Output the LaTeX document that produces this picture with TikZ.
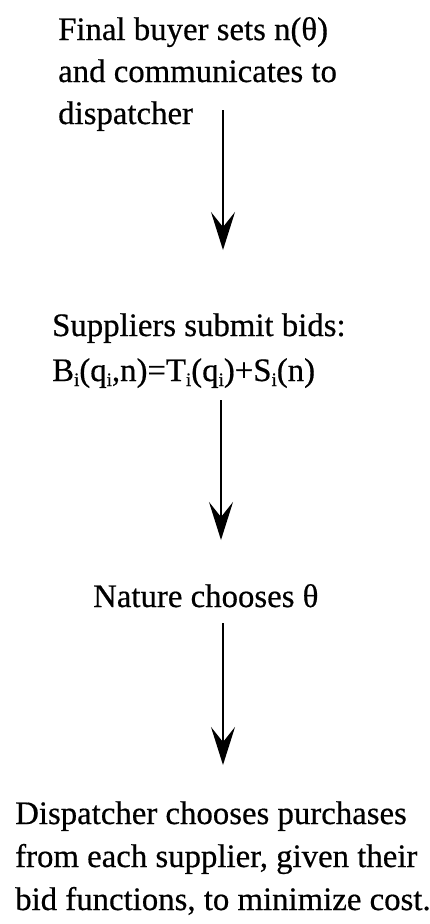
\documentclass[tikz,border=0pt]{standalone}
\usepackage{fontspec}
\setmainfont[FakeBold=0.5]{Liberation Serif}
\usetikzlibrary{arrows.meta}
\newcommand\sbi{\raisebox{-5pt}{\fontsize{19}{19}\selectfont i}}
\begin{document}
\begin{tikzpicture}[x=1pt,y=-1pt,
  lbl/.style={inner sep=0pt,anchor=base west,font=\fontsize{32.8}{42}\selectfont},
  flow/.style={line width=1.6pt,-{Stealth[length=38pt,width=24pt,inset=15pt]}}]
\useasboundingbox (0,0) rectangle (429,924);
\node[lbl] (buyer) at (58,40) {\begin{tabular}[t]{@{}l@{}}Final buyer sets n(θ)\\and communicates to\\dispatcher\end{tabular}};
\node[lbl] (bids) at (52,336) {\begin{tabular}[t]{@{}l@{}}Suppliers submit bids:\\[3pt]B\sbi(q\sbi,n)=T\sbi(q\sbi)+S\sbi(n)\end{tabular}};
\node[lbl] (nature) at (93,607) {Nature chooses θ};
\node[lbl] (disp) at (15,824) {\begin{tabular}[t]{@{}l@{}}Dispatcher chooses purchases\\[1pt]from each supplier, given their\\[1pt]bid functions, to minimize cost.\end{tabular}};
\coordinate (a1s) at (223,110);
\coordinate (a1e) at (223,250);
\coordinate (a2s) at (221,400);
\coordinate (a2e) at (221,540);
\coordinate (a3s) at (223,623);
\coordinate (a3e) at (223,765);
\draw[flow] (a1s) -- (a1e);
\draw[flow] (a2s) -- (a2e);
\draw[flow] (a3s) -- (a3e);
\end{tikzpicture}
\end{document}
